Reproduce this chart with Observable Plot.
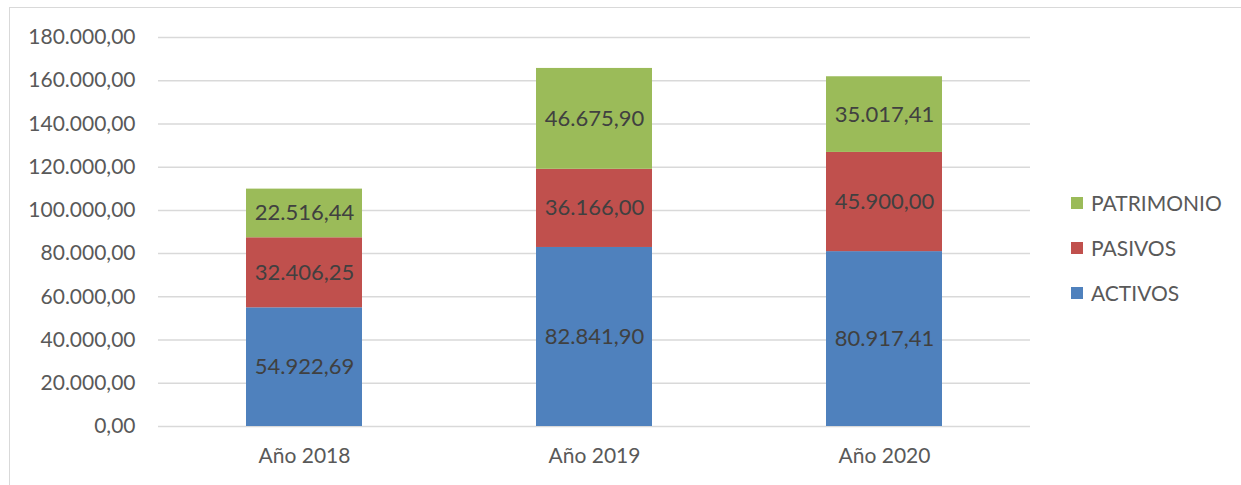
<!DOCTYPE html>
<html>
<head>
<meta charset="utf-8">
<script src="https://cdn.jsdelivr.net/npm/d3@7"></script>
<script src="https://cdn.jsdelivr.net/npm/@observablehq/plot@0.6"></script>
<style>
  html, body { margin: 0; padding: 0; background: #fff; }
  #wrap { position: relative; width: 1241px; height: 485px; overflow: hidden; font-family: Lato, "Open Sans", sans-serif; }
  #frame { position: absolute; left: 9px; top: 7px; width: 1300px; height: 600px; border-left: 1px solid #d9d9d9; border-top: 1px solid #d9d9d9; }
  #chart { position: absolute; left: 0; top: 0; }
  #legend { position: absolute; left: 1071px; top: 180px; color: #595959; font-size: 21px; }
  .item { display: flex; align-items: center; height: 45px; }
  .sw { width: 12px; height: 12px; margin-right: 8px; }
</style>
</head>
<body>
<div id="wrap">
  <div id="frame"></div>
  <div id="chart"></div>
  <div id="legend"></div>
</div>
<script>
const years = ["Año 2018", "Año 2019", "Año 2020"];
const seriesNames = ["ACTIVOS", "PASIVOS", "PATRIMONIO"];
const activos = [54922.69, 82841.90, 80917.41];
const pasivos = [32406.25, 36166.00, 45900.00];
const patrimonio = [22516.44, 46675.90, 35017.41];
const colors = ["#4F81BD", "#C0504D", "#9BBB59"];
const yTicks = [0, 20000, 40000, 60000, 80000, 100000, 120000, 140000, 160000, 180000];

const seriesValues = [activos, pasivos, patrimonio];
const data = [];
seriesNames.forEach((s, i) => years.forEach((y, j) => data.push({year: y, series: s, value: seriesValues[i][j]})));

const es = d3.formatLocale({decimal: ",", thousands: ".", grouping: [3], currency: ["", "€"]});
const fmt = es.format(",.2f");

const chart = Plot.plot({
  width: 1241,
  height: 485,
  marginTop: 37,
  marginBottom: 59,
  marginLeft: 158,
  marginRight: 211,
  style: {fontFamily: "Lato, 'Open Sans', sans-serif", fontSize: "21px", color: "#595959", background: "transparent"},
  x: {domain: years, paddingInner: 0.6, paddingOuter: 0.3, label: null, tickSize: 0, tickPadding: 22},
  y: {domain: [0, 180000], ticks: yTicks, tickFormat: fmt, label: null, tickSize: 0, tickPadding: 23},
  color: {domain: seriesNames, range: colors},
  marks: [
    Plot.ruleY(yTicks, {stroke: "#d9d9d9", strokeWidth: 1.5}),
    Plot.barY(data, {x: "year", y: "value", fill: "series", inset: 0}),
    Plot.text(data, Plot.stackY({x: "year", y: "value", z: "series", text: d => fmt(d.value), fill: "#404040", fontSize: 22})),
    Plot.axisX({tickSize: 0, tickPadding: 22, fontSize: 21}),
    Plot.axisY({ticks: yTicks, tickFormat: fmt, tickSize: 0, tickPadding: 23, fontSize: 21})
  ]
});
document.getElementById("chart").appendChild(chart);

const legend = document.getElementById("legend");
[2, 1, 0].forEach(i => {
  const it = document.createElement("div");
  it.className = "item";
  const sw = document.createElement("span");
  sw.className = "sw";
  sw.style.background = colors[i];
  const t = document.createElement("span");
  t.textContent = seriesNames[i];
  it.appendChild(sw); it.appendChild(t);
  legend.appendChild(it);
});
</script>
</body>
</html>
